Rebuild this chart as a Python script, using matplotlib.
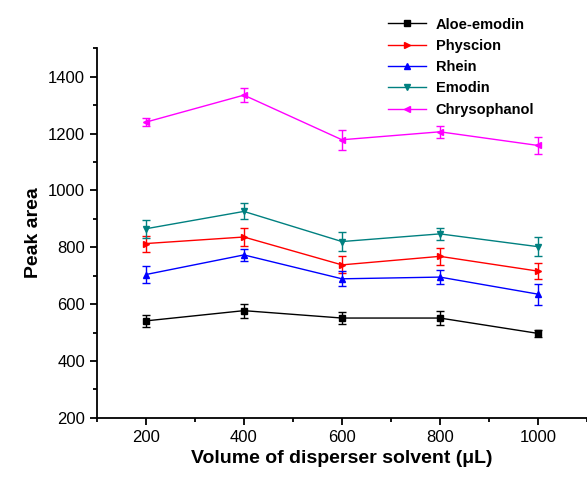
import matplotlib.pyplot as plt
from matplotlib.ticker import MultipleLocator

plt.rcParams['font.family'] = ['Liberation Sans', 'DejaVu Sans']

# 数据
volume = [200, 400, 600, 800, 1000]
aloe_emodin = [541, 577, 551, 551, 497]
aloe_emodin_err = [21, 25, 20, 26, 12]
physcion = [813, 836, 738, 768, 716]
physcion_err = [28, 30, 30, 29, 27]
rhein = [704, 773, 689, 695, 635]
rhein_err = [31, 22, 27, 24, 37]
emodin = [865, 926, 820, 847, 802]
emodin_err = [32, 28, 34, 22, 33]
chrysophanol = [1240, 1335, 1178, 1206, 1158]
chrysophanol_err = [15, 25, 35, 21, 29]

fig = plt.figure(figsize=(5.87, 4.87), dpi=100)
ax = fig.add_axes([0.165, 0.142, 0.835, 0.759])

series = [
    ("Aloe-emodin", aloe_emodin, aloe_emodin_err, "black", "s"),
    ("Physcion", physcion, physcion_err, "red", ">"),
    ("Rhein", rhein, rhein_err, "blue", "^"),
    ("Emodin", emodin, emodin_err, "#008080", "v"),
    ("Chrysophanol", chrysophanol, chrysophanol_err, "#ff00ff", "<"),
]
handles = []
for name, y, err, c, m in series:
    ax.errorbar(volume, y, yerr=err, color=c, fmt='none',
                elinewidth=1, capsize=3, capthick=1)
    line, = ax.plot(volume, y, color=c, marker=m, markersize=5,
                    linewidth=1, label=name)
    handles.append(line)

ax.set_xlim(100, 1100)
ax.set_ylim(200, 1500)
ax.xaxis.set_major_locator(MultipleLocator(200))
ax.xaxis.set_minor_locator(MultipleLocator(100))
ax.yaxis.set_minor_locator(MultipleLocator(100))
ax.set_yticks(range(200, 1401, 200))
ax.spines['top'].set_visible(False)
ax.spines['right'].set_visible(False)
ax.spines['left'].set_linewidth(1.3)
ax.spines['bottom'].set_linewidth(1.3)
ax.tick_params(which='major', direction='out', length=5, width=1.3, labelsize=12)
ax.tick_params(which='minor', direction='out', length=3, width=1.3)

ax.set_xlabel("Volume of disperser solvent (\u03bcL)", fontsize=14, fontweight='bold')
ax.set_ylabel("Peak area", fontsize=14, fontweight='bold')

fig.legend(handles=handles, loc='upper left', bbox_to_anchor=(0.643, 0.985),
           frameon=False, prop={'weight': 'bold', 'size': 10.5},
           handlelength=2.6, handletextpad=0.7, labelspacing=0.5, borderaxespad=0.3)

plt.savefig("out.png", dpi=100)
